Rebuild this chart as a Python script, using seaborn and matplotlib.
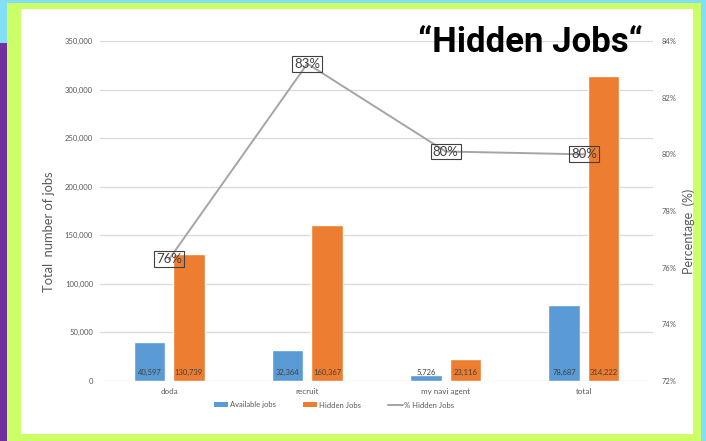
import numpy as np
import pandas as pd
import matplotlib
matplotlib.use("Agg")
import matplotlib.pyplot as plt
from matplotlib.patches import Rectangle, Patch
from matplotlib.lines import Line2D
from matplotlib.ticker import FuncFormatter, MultipleLocator
import seaborn as sns

# ---- data ----
categories = ["doda", "recruit", "my navi agent", "total"]
available_jobs = [40597, 32364, 5726, 78687]
hidden_jobs = [130739, 160367, 23116, 314222]
pct_hidden = [76.3, 83.2, 80.1, 80.0]
series_names = ["Available jobs", "Hidden Jobs"]
line_name = "% Hidden Jobs"

BLUE = "#5B9BD5"
ORANGE = "#ED7D31"
GREY_LINE = "#A5A5A5"
TXT = "#595959"

sns.set_theme(style="white")
plt.rcParams["font.family"] = ["Lato", "DejaVu Sans"]

W, H = 706, 441
fig = plt.figure(figsize=(W / 100, H / 100), dpi=100)
fig.patch.set_facecolor("#82DFF6")


def rect_px(x0, y0, x1, y1, color):
    fig.patches.append(Rectangle((x0 / W, 1 - y1 / H), (x1 - x0) / W, (y1 - y0) / H,
                                 transform=fig.transFigure, facecolor=color,
                                 edgecolor="none", zorder=-10))


rect_px(0, 43, 7, 441, "#7030A0")
rect_px(7, 3, 701, 441, "#CCFF66")
rect_px(21, 9, 693, 434, "white")

ax = fig.add_axes([100 / W, 1 - 381 / H, 553 / W, 340 / H])
ax.set_facecolor("none")

df = pd.DataFrame({
    "category": categories * 2,
    "series": [series_names[0]] * len(categories) + [series_names[1]] * len(categories),
    "value": available_jobs + hidden_jobs,
})

sns.barplot(data=df, x="category", y="value", hue="series", order=categories,
            hue_order=series_names, palette=[BLUE, ORANGE], width=0.57, gap=0.2,
            saturation=1, legend=False, ax=ax, zorder=2)

ax.set_ylim(0, 350000)
ax.set_xlim(-0.5, len(categories) - 0.5)
ax.yaxis.set_major_locator(MultipleLocator(50000))
ax.yaxis.set_major_formatter(FuncFormatter(lambda v, p: f"{int(v):,}"))
ax.grid(axis="y", color="#D9D9D9", linewidth=0.9, zorder=0)
ax.grid(axis="x", visible=False)
ax.set_axisbelow(True)
for s in ax.spines.values():
    s.set_visible(False)
ax.tick_params(axis="y", length=0, pad=5, labelsize=5.5, labelcolor=TXT)
ax.tick_params(axis="x", length=0, pad=5, labelsize=5.8, labelcolor=TXT)
ax.set_xlabel("")
ax.set_ylabel("Total  number of jobs", fontsize=9.3, color=TXT)
ax.yaxis.set_label_coords(-0.081, 0.44)

# bar value labels at the bottom of each bar
for cont, vals in zip(ax.containers, [available_jobs, hidden_jobs]):
    for bar, v in zip(cont, vals):
        ax.annotate(f"{v:,}", xy=(bar.get_x() + bar.get_width() / 2, 0),
                    xytext=(0, 5.8), textcoords="offset points",
                    ha="center", va="center", fontsize=5.5, color="#404040", zorder=5)

# secondary axis for percentage
ax2 = ax.twinx()
ax2.set_facecolor("none")
sns.lineplot(x=np.arange(len(categories)), y=pct_hidden, color=GREY_LINE,
             linewidth=1.4, ax=ax2, zorder=3)
ax2.set_ylim(72, 84)
ax2.set_xlim(-0.5, len(categories) - 0.5)
ax2.yaxis.set_major_locator(MultipleLocator(2))
ax2.yaxis.set_major_formatter(FuncFormatter(lambda v, p: f"{int(round(v))}%"))
ax2.tick_params(axis="y", length=0, pad=6, labelsize=5.5, labelcolor=TXT)
ax2.grid(False)
for s in ax2.spines.values():
    s.set_visible(False)
ax2.set_ylabel("Percentage  (%)", fontsize=9, color=TXT)
ax2.yaxis.set_label_coords(1.054, 0.44)

for i, p in enumerate(pct_hidden):
    ax2.annotate(f"{round(p)}%", xy=(i, p), ha="center", va="center",
                 fontsize=9.5, color="#404040",
                 bbox=dict(boxstyle="square,pad=0.15", fc="none", ec="#404040", lw=0.8),
                 zorder=6)

# title
fig.text(530 / W, 1 - 42 / H, "\u201cHidden Jobs\u201c", ha="center", va="center",
         fontsize=25, fontweight="bold", color="black", family=["Roboto", "DejaVu Sans"])

# legend
handles = [Patch(facecolor=BLUE, edgecolor="none"),
           Patch(facecolor=ORANGE, edgecolor="none"),
           Line2D([0], [0], color=GREY_LINE, lw=1.4)]
leg = fig.legend(handles, series_names + [line_name], loc="center",
                 bbox_to_anchor=(334 / W, 1 - 405 / H), ncol=3, frameon=False,
                 fontsize=5.5, handlelength=1.9, handleheight=0.6,
                 columnspacing=3.6, handletextpad=0.2)
for t in leg.get_texts():
    t.set_color(TXT)

fig.savefig("out.png", dpi=100)
